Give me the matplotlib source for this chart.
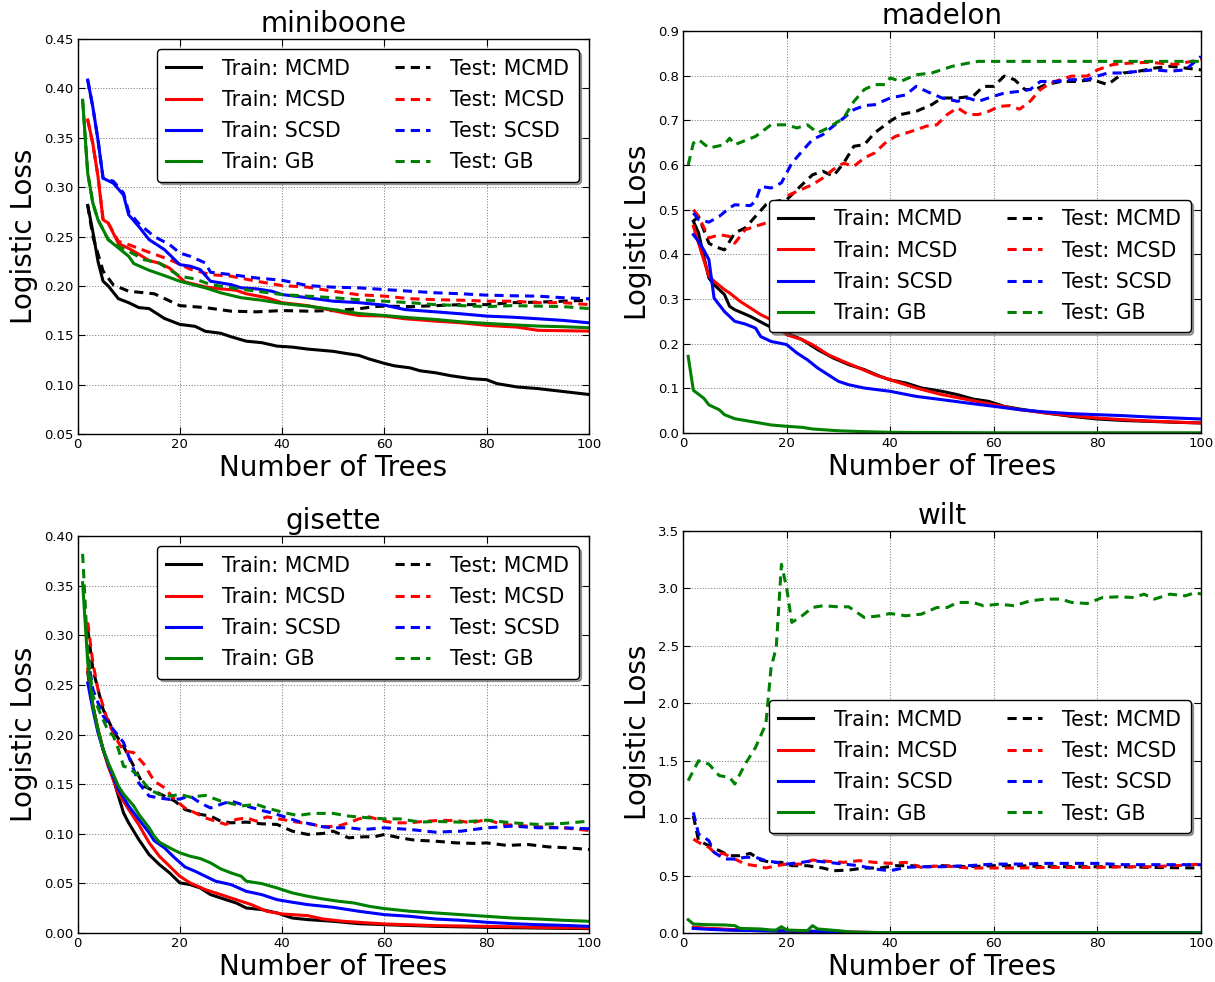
import matplotlib
matplotlib.use("Agg")
import matplotlib.pyplot as plt
import numpy as np

# ---------------- data ----------------
series_names = ["MCMD", "MCSD", "SCSD", "GB"]
colors = ["k", "r", "b", "g"]
titles = ["miniboone", "madelon", "gisette", "wilt"]
xlabel_text = "Number of Trees"
ylabel_text = "Logistic Loss"

# miniboone
mb_tr_mcmd_x = [2,3,4,5,6,8,10,12,14,17,20,23,25,28,30,33,36,39,42,45,50,52,55,57,60,62,65,67,70,73,77,80,82,86,90,94,100]
mb_tr_mcmd_y = [0.2815,0.255,0.225,0.2047,0.200,0.187,0.183,0.178,0.177,0.167,0.161,0.159,0.154,0.152,0.1485,0.144,0.1425,0.139,0.138,0.136,0.1337,0.132,0.1296,0.126,0.1215,0.119,0.117,0.114,0.112,0.109,0.106,0.105,0.101,0.0976,0.096,0.0936,0.090]
mb_te_mcmd_x = [2,3,5,7,10,15,20,25,30,35,40,45,50,55,58,60,65,70,75,80,85,90,95,100]
mb_te_mcmd_y = [0.2815,0.25,0.215,0.201,0.1946,0.192,0.180,0.178,0.1744,0.1737,0.175,0.1744,0.175,0.1768,0.179,0.1795,0.179,0.180,0.181,0.181,0.183,0.1835,0.1845,0.1855]
mb_tr_mcsd_x = [2,3,4,5,6,8,10,12,14,16,18,21,25,28,31,33,37,40,45,48,52,55,60,64,70,75,80,86,90,100]
mb_tr_mcsd_y = [0.368,0.344,0.311,0.267,0.2636,0.243,0.238,0.232,0.2256,0.223,0.218,0.204,0.199,0.197,0.1956,0.192,0.188,0.183,0.180,0.177,0.1727,0.170,0.1694,0.1667,0.1643,0.1626,0.160,0.1582,0.155,0.1542]
mb_te_mcsd_x = [2,3,4,5,6,8,10,14,18,22,26,30,35,40,45,50,55,60,65,70,75,80,85,90,95,100]
mb_te_mcsd_y = [0.368,0.344,0.311,0.267,0.2636,0.245,0.2418,0.234,0.2266,0.217,0.2114,0.2098,0.2047,0.2003,0.1987,0.1946,0.191,0.1896,0.187,0.186,0.1855,0.1845,0.1845,0.183,0.183,0.181]
mb_tr_scsd_x = [2,3,4,5,7,9,10,12,14,17,20,22,24,26,28,30,32,35,38,40,45,50,55,60,64,70,75,80,85,90,95,100]
mb_tr_scsd_y = [0.4084,0.381,0.348,0.309,0.304,0.292,0.272,0.260,0.2468,0.2367,0.2215,0.220,0.2165,0.2047,0.203,0.2013,0.198,0.197,0.1946,0.1912,0.188,0.1845,0.183,0.1805,0.176,0.1737,0.1717,0.1694,0.1683,0.1667,0.165,0.1626]
mb_te_scsd_x = [2,3,4,5,7,9,10,12,15,18,20,22,25,26,30,35,40,45,50,55,60,65,70,75,80,85,90,95,100]
mb_te_scsd_y = [0.4084,0.381,0.348,0.309,0.306,0.294,0.275,0.263,0.250,0.2418,0.2333,0.230,0.2232,0.2138,0.2114,0.208,0.2057,0.2003,0.1987,0.198,0.1963,0.1946,0.193,0.192,0.1906,0.190,0.1896,0.188,0.1869]
mb_tr_gb_x = [1,2,3,4,5,6,8,10,11,14,17,20,22,25,28,32,36,40,45,50,55,60,65,70,75,80,85,90,95,100]
mb_tr_gb_y = [0.388,0.314,0.2838,0.267,0.257,0.2468,0.2384,0.230,0.2226,0.2158,0.2104,0.2047,0.202,0.198,0.193,0.188,0.1855,0.1822,0.1795,0.176,0.172,0.170,0.1677,0.166,0.1636,0.162,0.1606,0.1593,0.1586,0.1576]
mb_te_gb_x = [1,2,3,4,5,6,8,10,13,16,20,23,26,30,35,40,45,50,55,60,65,70,75,80,85,90,95,100]
mb_te_gb_y = [0.388,0.314,0.2838,0.267,0.257,0.2468,0.240,0.235,0.2266,0.223,0.2098,0.207,0.2013,0.198,0.1946,0.1912,0.1896,0.188,0.186,0.1845,0.183,0.181,0.180,0.179,0.180,0.1795,0.179,0.177]

# madelon
md_tr_mcmd_x = [2,3,4,5,6,8,9,10,13,16,18,20,23,26,29,32,35,38,40,43,46,50,53,56,59,62,65,70,75,80,85,90,95,100]
md_tr_mcmd_y = [0.474,0.448,0.3955,0.347,0.332,0.31,0.2836,0.276,0.261,0.2425,0.231,0.224,0.209,0.1866,0.168,0.153,0.142,0.127,0.119,0.112,0.101,0.0933,0.0858,0.076,0.0709,0.0597,0.0537,0.0448,0.0373,0.0313,0.028,0.026,0.024,0.0224]
md_te_mcmd_x = [2,3,5,6,8,10,12,14,16,18,20,22,25,27,29,31,33,35,37,40,42,45,48,50,53,56,58,60,62,64,66,68,70,73,76,79,82,85,88,91,94,97,100]
md_te_mcmd_y = [0.474,0.485,0.425,0.418,0.41,0.448,0.459,0.485,0.511,0.519,0.522,0.545,0.578,0.586,0.575,0.604,0.642,0.6455,0.672,0.698,0.713,0.720,0.735,0.75,0.75,0.754,0.776,0.776,0.799,0.791,0.769,0.769,0.78,0.787,0.787,0.791,0.78,0.806,0.81,0.817,0.821,0.817,0.813]
md_tr_mcsd_x = [2,3,5,6,8,9,11,13,15,17,20,23,25,28,31,34,37,40,45,50,55,60,65,70,75,80,85,90,95,100]
md_tr_mcsd_y = [0.463,0.425,0.351,0.34,0.321,0.3134,0.295,0.28,0.265,0.2537,0.22,0.209,0.1978,0.1754,0.160,0.1455,0.1306,0.119,0.1007,0.0858,0.0746,0.0634,0.0522,0.0448,0.0388,0.0336,0.0299,0.0269,0.0246,0.0224]
md_te_mcsd_x = [2,3,5,7,9,10,12,14,16,18,20,22,25,27,29,31,33,35,37,39,41,44,47,49,51,53,55,57,59,61,63,65,67,69,71,75,78,80,83,86,90,95,100]
md_te_mcsd_y = [0.5,0.485,0.4366,0.444,0.44,0.425,0.455,0.463,0.470,0.485,0.530,0.541,0.556,0.571,0.59,0.604,0.597,0.616,0.627,0.649,0.664,0.675,0.687,0.690,0.713,0.728,0.713,0.713,0.72,0.731,0.733,0.725,0.7425,0.769,0.784,0.799,0.799,0.813,0.825,0.828,0.830,0.825,0.836]
md_tr_scsd_x = [2,3,4,5,6,7,8,10,12,14,15,17,20,22,24,26,28,30,32,35,40,45,50,55,60,65,70,75,80,85,90,95,100]
md_tr_scsd_y = [0.444,0.429,0.41,0.388,0.302,0.287,0.272,0.25,0.244,0.235,0.216,0.205,0.198,0.179,0.164,0.1455,0.1306,0.1157,0.108,0.1007,0.0933,0.082,0.0746,0.067,0.0597,0.0522,0.047,0.0433,0.041,0.0388,0.0358,0.0336,0.0313]
md_te_scsd_x = [2,3,5,7,9,10,13,14,15,17,19,20,21,23,25,27,29,31,33,35,37,40,43,45,47,50,53,55,57,60,62,65,67,69,72,75,78,80,82,85,88,91,94,97,100]
md_te_scsd_y = [0.4925,0.478,0.472,0.485,0.504,0.511,0.509,0.519,0.552,0.5485,0.56,0.582,0.604,0.631,0.657,0.668,0.687,0.705,0.724,0.733,0.735,0.75,0.757,0.776,0.765,0.75,0.7425,0.75,0.7425,0.754,0.761,0.765,0.769,0.787,0.787,0.791,0.791,0.799,0.806,0.806,0.81,0.813,0.81,0.813,0.843]
md_tr_gb_x = [1,2,4,5,7,8,10,13,17,20,23,25,30,35,40,50,60,80,100]
md_tr_gb_y = [0.1716,0.0955,0.078,0.063,0.052,0.041,0.032,0.026,0.018,0.015,0.0127,0.009,0.005,0.003,0.0015,0.001,0.0005,0.0005,0.0005]
md_te_gb_x = [1,2,3,5,8,9,10,14,17,20,22,24,26,28,31,33,35,37,39,40,42,45,48,52,55,57,60,70,80,90,100]
md_te_gb_y = [0.60,0.649,0.657,0.638,0.6455,0.66,0.6455,0.664,0.690,0.690,0.683,0.690,0.672,0.683,0.705,0.7425,0.769,0.78,0.78,0.795,0.787,0.802,0.806,0.821,0.828,0.832,0.832,0.832,0.832,0.832,0.832]

# gisette
gs_tr_mcmd_x = [2,3,4,5,7,8,9,10,12,14,16,18,20,22,24,26,28,31,33,36,39,42,45,50,55,60,70,80,90,100]
gs_tr_mcmd_y = [0.2625,0.229,0.205,0.185,0.155,0.138,0.121,0.111,0.094,0.079,0.069,0.0606,0.0505,0.0488,0.0454,0.0387,0.0353,0.0303,0.0252,0.0236,0.0202,0.0151,0.0135,0.0118,0.0094,0.0084,0.0067,0.0057,0.005,0.0044]
gs_te_mcmd_x = [2,3,5,7,9,10,11,13,15,17,19,21,24,26,28,30,33,36,39,42,45,48,50,53,56,58,60,63,66,70,74,78,80,84,88,92,96,100]
gs_te_mcmd_y = [0.306,0.266,0.2254,0.2036,0.188,0.178,0.168,0.148,0.143,0.138,0.133,0.1245,0.1195,0.1178,0.1127,0.111,0.1117,0.110,0.1094,0.1026,0.0993,0.1003,0.1026,0.0959,0.0969,0.0969,0.0993,0.0959,0.0935,0.0925,0.0908,0.0902,0.0908,0.0882,0.0892,0.0868,0.0858,0.0841]
gs_tr_mcsd_x = [2,3,4,5,6,8,10,12,14,16,18,20,22,25,28,31,34,37,40,45,48,52,57,60,70,80,90,100]
gs_tr_mcsd_y = [0.266,0.229,0.205,0.185,0.168,0.141,0.1245,0.109,0.091,0.0774,0.0673,0.0572,0.0505,0.0437,0.0387,0.0336,0.0286,0.0219,0.0192,0.0175,0.0141,0.0118,0.0101,0.0091,0.0074,0.0067,0.0057,0.005]
gs_te_mcsd_x = [2,3,4,6,8,9,11,13,15,17,19,21,23,25,27,29,31,33,35,37,40,43,46,48,51,53,55,57,60,62,65,68,71,74,77,80,83,86,90,95,100]
gs_te_mcsd_y = [0.313,0.2725,0.2456,0.212,0.192,0.1834,0.1817,0.170,0.153,0.1464,0.1346,0.126,0.121,0.116,0.1127,0.1094,0.1144,0.116,0.1127,0.117,0.1144,0.1117,0.1094,0.107,0.1077,0.111,0.115,0.117,0.1127,0.111,0.111,0.1127,0.1134,0.1134,0.111,0.1144,0.1094,0.1084,0.107,0.106,0.1033]
gs_tr_scsd_x = [2,3,4,5,6,8,10,12,14,15,17,19,21,23,25,27,30,33,36,39,42,45,50,55,60,65,70,75,80,85,90,95,100]
gs_tr_scsd_y = [0.252,0.2254,0.202,0.185,0.170,0.1447,0.128,0.1144,0.101,0.093,0.0858,0.0757,0.0666,0.0622,0.0572,0.0522,0.0488,0.042,0.0387,0.0336,0.031,0.0286,0.0259,0.0219,0.0185,0.0168,0.0141,0.0128,0.0108,0.0094,0.0084,0.0077,0.0067]
gs_te_scsd_x = [2,3,5,7,9,10,12,14,16,18,20,22,24,26,28,30,33,36,38,40,43,46,48,50,53,56,60,65,70,75,80,85,90,95,100]
gs_te_scsd_y = [0.279,0.2456,0.2187,0.205,0.192,0.178,0.151,0.138,0.136,0.1346,0.135,0.138,0.131,0.126,0.1296,0.133,0.128,0.1235,0.121,0.1178,0.1127,0.1094,0.107,0.106,0.106,0.1043,0.106,0.1043,0.1016,0.1026,0.106,0.1077,0.106,0.106,0.105]
gs_tr_gb_x = [1,2,3,4,5,6,7,8,9,10,11,12,14,15,16,18,20,22,24,26,28,30,32,33,36,39,42,45,48,51,54,57,60,65,70,75,80,85,90,95,100]
gs_tr_gb_y = [0.353,0.2725,0.229,0.205,0.185,0.1716,0.16,0.148,0.140,0.134,0.128,0.1195,0.106,0.0976,0.0915,0.0858,0.0808,0.0774,0.075,0.0707,0.0646,0.0606,0.0572,0.0522,0.0498,0.0454,0.0404,0.037,0.0343,0.032,0.0303,0.0269,0.0246,0.0219,0.0202,0.0185,0.0168,0.0151,0.0141,0.0128,0.0118]
gs_te_gb_x = [1,2,3,5,6,7,8,9,10,12,14,16,18,20,22,25,28,30,32,35,37,40,43,46,50,53,57,60,63,67,70,75,80,85,90,95,100]
gs_te_gb_y = [0.382,0.2826,0.239,0.215,0.2036,0.1985,0.185,0.168,0.1666,0.158,0.1447,0.1396,0.138,0.1396,0.137,0.1386,0.133,0.1306,0.128,0.1296,0.126,0.1218,0.1184,0.1205,0.1205,0.1178,0.116,0.115,0.115,0.1117,0.1124,0.1117,0.1137,0.111,0.1094,0.1104,0.1127]

# wilt
wl_tr_mcmd_x = [2,10,20,30,40,100]
wl_tr_mcmd_y = [0.045,0.025,0.015,0.008,0.002,0.002]
wl_te_mcmd_x = [2,3,5,7,9,11,13,15,17,19,21,24,27,29,32,35,38,41,44,47,50,55,60,65,70,75,80,85,90,100]
wl_te_mcmd_y = [1.02,0.804,0.76,0.717,0.673,0.673,0.693,0.635,0.615,0.615,0.586,0.586,0.566,0.542,0.548,0.566,0.566,0.586,0.586,0.577,0.586,0.577,0.586,0.586,0.577,0.577,0.577,0.577,0.571,0.566]
wl_tr_mcsd_x = [2,5,10,20,30,40,100]
wl_tr_mcsd_y = [0.05,0.04,0.029,0.02,0.009,0.003,0.003]
wl_te_mcsd_x = [2,3,5,6,8,10,12,14,16,18,20,23,25,28,31,34,37,40,43,46,50,55,60,65,70,75,80,85,90,95,100]
wl_te_mcsd_y = [0.818,0.789,0.746,0.702,0.688,0.644,0.60,0.586,0.566,0.586,0.60,0.60,0.635,0.624,0.615,0.63,0.615,0.606,0.615,0.571,0.586,0.566,0.566,0.566,0.571,0.571,0.571,0.577,0.577,0.586,0.60]
wl_tr_scsd_x = [2,5,8,15,25,32,40,100]
wl_tr_scsd_y = [0.04,0.032,0.026,0.02,0.015,0.006,0.003,0.003]
wl_te_scsd_x = [2,3,5,6,8,10,12,14,16,18,20,23,25,28,31,34,37,40,43,46,50,55,60,65,70,75,80,85,90,95,100]
wl_te_scsd_y = [1.05,0.862,0.804,0.702,0.644,0.644,0.659,0.659,0.63,0.615,0.60,0.615,0.63,0.615,0.60,0.586,0.557,0.542,0.571,0.577,0.577,0.586,0.60,0.60,0.606,0.606,0.606,0.595,0.595,0.595,0.595]
wl_tr_gb_x = [1,2,5,8,10,11,15,17,18,19,20,24,25,26,30,33,40,100]
wl_tr_gb_y = [0.116,0.078,0.072,0.07,0.064,0.04,0.035,0.026,0.026,0.055,0.026,0.02,0.064,0.035,0.02,0.006,0.003,0.002]
wl_te_gb_x = [1,2,3,5,7,9,10,12,14,16,17,18,19,20,21,23,25,27,30,32,35,38,40,43,46,49,51,53,56,58,61,64,67,70,73,75,78,81,84,87,89,91,94,97,99,100]
wl_te_gb_y = [1.326,1.413,1.50,1.47,1.37,1.355,1.297,1.47,1.616,1.82,2.31,2.486,3.21,3.008,2.704,2.762,2.834,2.849,2.84,2.84,2.747,2.762,2.782,2.762,2.776,2.834,2.834,2.878,2.878,2.849,2.863,2.849,2.892,2.907,2.907,2.878,2.869,2.921,2.927,2.921,2.95,2.907,2.95,2.936,2.965,2.95]

ylims = [(0.05, 0.45), (0.0, 0.9), (0.0, 0.40), (0.0, 3.5)]
yticks_step = [0.05, 0.1, 0.05, 0.5]

panels = [
    [(mb_tr_mcmd_x, mb_tr_mcmd_y, mb_te_mcmd_x, mb_te_mcmd_y),
     (mb_tr_mcsd_x, mb_tr_mcsd_y, mb_te_mcsd_x, mb_te_mcsd_y),
     (mb_tr_scsd_x, mb_tr_scsd_y, mb_te_scsd_x, mb_te_scsd_y),
     (mb_tr_gb_x, mb_tr_gb_y, mb_te_gb_x, mb_te_gb_y)],
    [(md_tr_mcmd_x, md_tr_mcmd_y, md_te_mcmd_x, md_te_mcmd_y),
     (md_tr_mcsd_x, md_tr_mcsd_y, md_te_mcsd_x, md_te_mcsd_y),
     (md_tr_scsd_x, md_tr_scsd_y, md_te_scsd_x, md_te_scsd_y),
     (md_tr_gb_x, md_tr_gb_y, md_te_gb_x, md_te_gb_y)],
    [(gs_tr_mcmd_x, gs_tr_mcmd_y, gs_te_mcmd_x, gs_te_mcmd_y),
     (gs_tr_mcsd_x, gs_tr_mcsd_y, gs_te_mcsd_x, gs_te_mcsd_y),
     (gs_tr_scsd_x, gs_tr_scsd_y, gs_te_scsd_x, gs_te_scsd_y),
     (gs_tr_gb_x, gs_tr_gb_y, gs_te_gb_x, gs_te_gb_y)],
    [(wl_tr_mcmd_x, wl_tr_mcmd_y, wl_te_mcmd_x, wl_te_mcmd_y),
     (wl_tr_mcsd_x, wl_tr_mcsd_y, wl_te_mcsd_x, wl_te_mcsd_y),
     (wl_tr_scsd_x, wl_tr_scsd_y, wl_te_scsd_x, wl_te_scsd_y),
     (wl_tr_gb_x, wl_tr_gb_y, wl_te_gb_x, wl_te_gb_y)],
]

# ---------------- layout ----------------
plt.rcParams['font.family'] = ['DejaVu Sans']
W, H = 1215, 982
fig = plt.figure(figsize=(W / 100, H / 100), dpi=100)

# axes boxes in pixels: (left, right, top, bottom)
boxes = [(77.5, 589, 39, 434), (683, 1201, 31, 433),
         (77.5, 589, 536, 933), (683, 1201, 531, 933)]
legend_pos = [("upper right", None), ("center right", (1.0, 0.415)),
              ("upper right", None), ("center right", (1.0, 0.414))]

for i, (l, r, t, b) in enumerate(boxes):
    ax = fig.add_axes([l / W, 1 - b / H, (r - l) / W, (b - t) / H])
    handles_tr, handles_te = [], []
    for (trx, tr_y, tex, te_y), c, nm in zip(panels[i], colors, series_names):
        htr, = ax.plot(trx, tr_y, color=c, lw=2.2, label="Train: " + nm)
        hte, = ax.plot(tex, te_y, color=c, lw=2.2, linestyle=(0, (3, 2)), label="Test: " + nm)
        handles_tr.append(htr)
        handles_te.append(hte)
    ax.set_xlim(0, 100)
    ax.set_ylim(*ylims[i])
    ax.set_xticks(np.arange(0, 101, 20))
    lo, hi = ylims[i]
    n = int(round((hi - lo) / yticks_step[i]))
    ax.set_yticks([lo + k * yticks_step[i] for k in range(n + 1)])
    ax.grid(True, color='0.5', linestyle=':', linewidth=0.75)
    ax.tick_params(direction='in', top=True, right=True, length=5, width=0.8,
                   labelsize=9.5, pad=3)
    for s in ax.spines.values():
        s.set_linewidth(1.0)
    ax.set_title(titles[i], fontsize=20, pad=5)
    ax.set_xlabel(xlabel_text, fontsize=20, labelpad=2)
    ax.set_ylabel(ylabel_text, fontsize=20, labelpad=4)
    loc, anchor = legend_pos[i]
    kw = dict(loc=loc, ncol=2, fontsize=14.8, shadow=True, fancybox=True,
              framealpha=1, edgecolor='k', handlelength=1.7, handletextpad=1.0,
              columnspacing=2.2, labelspacing=0.55, borderpad=0.45,
              borderaxespad=0.5)
    if anchor is not None:
        kw['bbox_to_anchor'] = anchor
    leg = ax.legend(handles_tr + handles_te, [h.get_label() for h in handles_tr + handles_te], **kw)
    leg.get_frame().set_linewidth(1.0)

fig.savefig("out.png", dpi=100, facecolor='white')
